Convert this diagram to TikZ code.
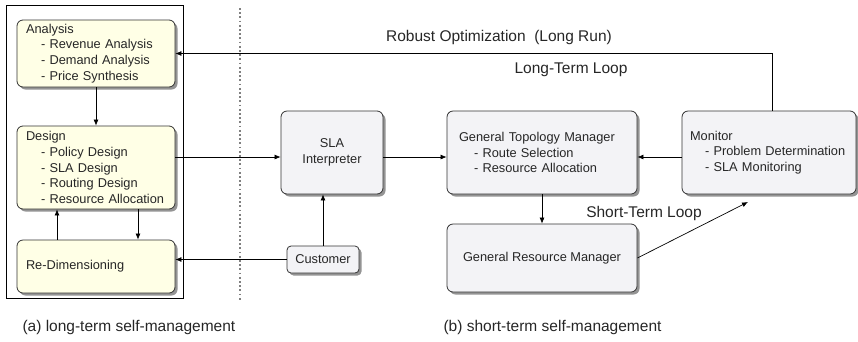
\documentclass[tikz,border=0pt]{standalone}
\usepackage{fontspec}
\setmainfont{Liberation Sans}
\usetikzlibrary{arrows.meta,shadows}

\definecolor{cream}{RGB}{255,255,230}
\definecolor{pale}{RGB}{243,243,246}

\begin{document}
\begin{tikzpicture}[x=1pt,y=-1pt,
	box/.style={draw=black!80, rounded corners=6pt, line width=0.8pt, text=black!85,
		font=\fontsize{12.8}{15.7}\selectfont,
		drop shadow={shadow xshift=2.5pt, shadow yshift=-2.5pt, fill=black!70, opacity=0.6}},
	ybox/.style={box, fill=cream, text width=140pt, inner xsep=9pt, align=left, minimum width=158pt},
	gbox/.style={box, fill=pale},
	arr/.style={-{Latex[length=6pt,width=5pt]}, line width=0.7pt},
	lbl/.style={font=\fontsize{15.5}{18}\selectfont, text=black!85}]

	\useasboundingbox (0,0) rectangle (858,341);

	% long-term side
	\draw[line width=0.7pt] (6,5) rectangle (183,298);
	\node[ybox, minimum height=67pt] (ana) at (96,53.5) {Analysis\\
		\hspace*{15pt}- Revenue Analysis\\
		\hspace*{15pt}- Demand Analysis\\
		\hspace*{15pt}- Price Synthesis};
	\node[ybox, minimum height=83pt] (des) at (96,167.5) {Design\\
		\hspace*{15pt}- Policy Design\\
		\hspace*{15pt}- SLA Design\\
		\hspace*{15pt}- Routing Design\\
		\hspace*{15pt}- Resource Allocation};
	\node[ybox, minimum height=53pt] (red) at (96,266.5) {Re-Dimensioning};

	% separator
	\coordinate (dtop) at (240,8);
	\coordinate (dbot) at (240,300);
	\draw[black!50, line width=1.8pt, dash pattern=on 1.8pt off 2.4pt] (dtop) -- (dbot);

	% short-term side
	\node[gbox, minimum width=102pt, minimum height=83pt, align=center] (sla) at (332,152.5) {SLA\\Interpreter};
	\node[gbox, rounded corners=4pt, minimum width=72pt, minimum height=27pt] (cust) at (323,259.5) {Customer};
	\node[gbox, text width=166pt, inner xsep=12pt, align=left, minimum height=83pt] (gtm) at (542,152.5) {General Topology Manager\\
		\hspace*{15pt}- Route Selection\\
		\hspace*{15pt}- Resource Allocation};
	\node[gbox, text width=158pt, inner xsep=8pt, align=left, minimum height=83pt] (mon) at (769,152.5) {Monitor\\
		\hspace*{15pt}- Problem Determination\\
		\hspace*{15pt}- SLA Monitoring};
	\node[gbox, minimum width=190pt, minimum height=68pt] (grm) at (542,258) {General Resource Manager};

	% connectors
	\coordinate (row) at (0,157);
	\coordinate (stend) at (748,202);
	\draw[arr] (ana.south) -- (des.north);
	\draw[arr] ([xshift=-39pt]red.north) -- ([xshift=-39pt]des.south);
	\draw[arr] ([xshift=42pt]des.south) -- ([xshift=42pt]red.north);
	\draw[arr] (des.east |- row) -- (sla.west |- row);
	\draw[arr] (sla.east |- row) -- (gtm.west |- row);
	\draw[arr] (mon.west |- row) -- (gtm.east |- row);
	\draw[arr] (cust.north) -- (cust.north |- sla.south);
	\draw[arr] (cust.west) -- (cust.west -| red.east);
	\draw[arr] (gtm.south) -- (grm.north);
	\draw[arr] (grm.east) -- (stend);
	\draw[arr] ([xshift=3pt]mon.north) |- (ana.east);

	% labels
	\node[lbl] (robust) at (499,37) {Robust Optimization\ \ (Long Run)};
	\node[lbl] (ltloop) at (571,70) {Long-Term Loop};
	\node[lbl] (stloop) at (644,213) {Short-Term Loop};
	\node[lbl, anchor=west] (capa) at (19,327) {(a) long-term self-management};
	\node[lbl, anchor=west] (capb) at (440,327) {(b) short-term self-management};
\end{tikzpicture}
\end{document}
